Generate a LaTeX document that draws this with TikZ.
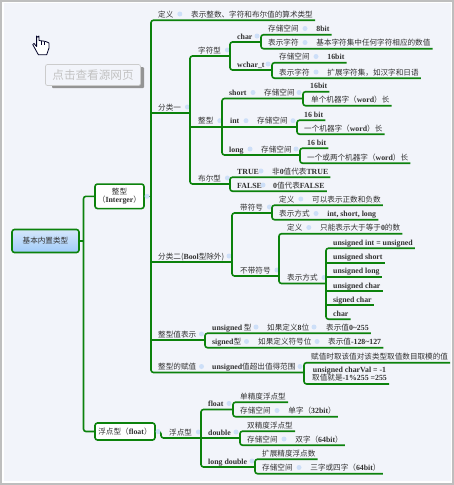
\documentclass[tikz,border=0pt]{standalone}
\usepackage{fontspec}
\setmainfont{Noto Sans CJK SC}
\newfontfamily\lat[Scale=1.03]{Liberation Serif}
\usetikzlibrary{positioning}
\definecolor{cBranch}{RGB}{12,130,12}
\definecolor{cDot}{RGB}{205,223,248}
\definecolor{cBg}{RGB}{242,244,250}
\definecolor{cFrame}{RGB}{190,190,190}
\definecolor{cTxt}{RGB}{50,50,50}
\definecolor{cRootA}{RGB}{214,231,251}
\definecolor{cRootB}{RGB}{160,203,250}
\newcommand{\en}[1]{{\lat\bfseries #1}}

\begin{document}
\begin{tikzpicture}[
  x=1pt, y=-1pt,
  txt/.style={font=\fontsize{7.6}{9}\selectfont, text=cTxt, inner xsep=2pt, inner ysep=0pt,
    text height=9pt, text depth=3pt, anchor=west},
  dot/.style={circle, fill=cDot, inner sep=0pt, minimum size=5pt},
  branch/.style={draw=cBranch, line width=1.6pt, rounded corners=2.5pt},
  topbox/.style={rectangle, rounded corners=2.5pt, draw=cBranch, line width=1.6pt, fill=white,
    font=\fontsize{7.6}{8.6}\selectfont, text=cTxt, align=center, inner sep=0pt},
  rootbox/.style={topbox, top color=cRootA, bottom color=cRootB, minimum width=67pt, minimum height=23pt},
  srcbtn/.style={rectangle, rounded corners=2pt, draw=black!20, line width=0.7pt, fill=cBg,
    font=\fontsize{11.6}{12}\selectfont, text=black!24, minimum width=95pt, minimum height=21pt, inner sep=0pt},
  btnshade/.style={rectangle, rounded corners=1pt, fill=black!42, minimum width=92pt, minimum height=21pt},
]
\useasboundingbox (0,0) rectangle (454,485);
% page frame
\fill[cFrame] (0,0) rectangle (454,485);
\fill[white] (2,2) rectangle (452,483);
\fill[cBg] (3.5,2.5) rectangle (450.5,481);

% hand and source button
\draw[fill=white, draw=black!85!blue, line width=0.8pt, line join=round]
  (36.6,36) arc[start angle=180, end angle=0, radius=1.2] -- (39,40.5) -- (43,41) -- (46,41.6)
  -- (49,43) -- (49,48) -- (46.7,54.8) -- (38.4,54.8) -- (32.8,44.6) -- (34,43.4) -- (36.6,46.5) -- cycle;
\draw[draw=black!85!blue, line width=0.5pt] (41.5,41) -- (41.5,45) (44.5,41.5) -- (44.5,45);
\node[btnshade] (btnSh) at (98,77.5) {};
\node[srcbtn] (btn) at (93,75) {点击查看源网页};

% top level boxes
\node[rootbox] (root) at (45.5,241) {基本内置类型};
\node[topbox, minimum width=49pt, minimum height=24.5pt] (boxInt) at (119.5,196.3) {整型\\（\en{Interger}）};
\node[topbox, minimum width=60pt, minimum height=17pt] (boxFlt) at (125,431.5) {浮点型（\en{float}）};

% junctions
\coordinate (jRoot) at (83.5,241);
\coordinate (jInt) at (151,196.3);
\coordinate (jOne) at (190,113);
\coordinate (jChars) at (230,56);
\coordinate (jChar) at (261,42);
\coordinate (jWchar) at (272,70);
\coordinate (jZx) at (222,126.7);
\coordinate (jShort) at (303,98.5);
\coordinate (jMid) at (297,126.7);
\coordinate (jLong) at (300,155);
\coordinate (jBool) at (230,184);
\coordinate (jTwo) at (232,262);
\coordinate (jSigned) at (272,213);
\coordinate (jUnsigned) at (279,276);
\coordinate (jForm) at (326,283.5);
\coordinate (jVal) at (205,340);
\coordinate (jAsgn) at (304,372.5);
\coordinate (jFltIn) at (161,438);
\coordinate (jFlt) at (201,438);
\coordinate (jFlo) at (233,409.5);
\coordinate (jDbl) at (240,438);
\coordinate (jLd) at (255,467);

% first branch
\node[txt] (nDef) at (156,14) {定义};
\node[dot, right=1.5pt of nDef] (dDef) {};
\node[txt, right=6.5pt of dDef] (nDefT) {表示整数、字符和布尔值的算术类型};
\node[txt] (nOne) at (156,107) {分类一};
\node[dot, right=1.5pt of nOne] (dOne) {};
\node[txt] (nChars) at (196,50) {字符型};
\node[dot, right=1.5pt of nChars] (dChars) {};
\node[txt] (nChar) at (235,36) {\en{char}};
\node[dot] (dChar) at (257,36) {};
\node[txt] (nCa) at (266,28.5) {存储空间};
\node[dot, right=1.5pt of nCa] (dCa) {};
\node[txt, right=6.5pt of dCa] (nCaT) {\en{8bit}};
\node[txt] (nCb) at (266,42.5) {表示字符};
\node[dot, right=1.5pt of nCb] (dCb) {};
\node[txt, right=6.5pt of dCb] (nCbT) {基本字符集中任何字符相应的数值};
\node[txt] (nWchar) at (235,64) {\en{wchar\_t}};
\node[dot] (dWchar) at (268,64) {};
\node[txt] (nWa) at (277,56.5) {存储空间};
\node[dot, right=1.5pt of nWa] (dWa) {};
\node[txt, right=6.5pt of dWa] (nWaT) {\en{16bit}};
\node[txt] (nWb) at (277,72) {表示字符};
\node[dot, right=1.5pt of nWb] (dWb) {};
\node[txt, right=6.5pt of dWb] (nWbT) {扩展字符集，如汉字和日语};
\node[txt] (nZx) at (196,120.7) {整型};
\node[dot, right=1.5pt of nZx] (dZx) {};
\node[txt] (nShort) at (227,92.5) {\en{short}};
\node[dot] (dShort) at (253,92.5) {};
\node[txt] (nSa) at (262,92.5) {存储空间};
\node[dot] (dSa) at (299,92.5) {};
\node[txt] (nSb) at (308,85.5) {\en{16bit}};
\node[txt] (nSc) at (309,99.5) {单个机器字（\en{word}）长};
\node[txt] (nMid) at (228,120.7) {\en{int}};
\node[dot] (dMid) at (246,120.7) {};
\node[txt] (nMa) at (255,120.7) {存储空间};
\node[dot] (dMa) at (293,120.7) {};
\node[txt] (nMb) at (302,114) {\en{16 bit}};
\node[txt] (nMc) at (302,128) {一个机器字（\en{word}）长};
\node[txt] (nLong) at (227,149) {\en{long}};
\node[dot] (dLong) at (250,149) {};
\node[txt] (nLa) at (259,149) {存储空间};
\node[dot] (dLa) at (296,149) {};
\node[txt] (nLb) at (305,142) {\en{16 bit}};
\node[txt] (nLc) at (305,157) {一个或两个机器字（\en{word}）长};
\node[txt] (nBool) at (196,178) {布尔型};
\node[dot, right=1.5pt of nBool] (dBool) {};
\node[txt] (nTrue) at (235,171) {\en{TRUE}};
\node[dot] (dTrue) at (261,171) {};
\node[txt] (nTrueT) at (270,171) {非\en{0}值代表\en{TRUE}};
\node[txt] (nFalse) at (235,185) {\en{FALSE}};
\node[dot] (dFalse) at (263,185) {};
\node[txt] (nFalseT) at (271,185) {\en{0}值代表\en{FALSE}};

% second branch
\node[txt] (nTwo) at (156,256) {分类二(\en{Bool}型除外)};
\node[dot] (dTwo) at (229,256) {};
\node[txt] (nSigned) at (238,207) {带符号};
\node[dot, right=1.5pt of nSigned] (dSigned) {};
\node[txt] (nGa) at (277,199) {定义};
\node[dot, right=1.5pt of nGa] (dGa) {};
\node[txt, right=6.5pt of dGa] (nGaT) {可以表示正数和负数};
\node[txt] (nGb) at (277,213.5) {表示方式};
\node[dot, right=1.5pt of nGb] (dGb) {};
\node[txt, right=6.5pt of dGb] (nGbT) {\en{int, short, long}};
\node[txt] (nUnsigned) at (238,270) {不带符号};
\node[dot, right=1.5pt of nUnsigned] (dUnsigned) {};
\node[txt] (nUa) at (285,227.5) {定义};
\node[dot, right=1.5pt of nUa] (dUa) {};
\node[txt, right=6.5pt of dUa] (nUaT) {只能表示大于等于\en{0}的数};
\node[txt] (nForm) at (285,277.5) {表示方式};
\node[dot, right=1.5pt of nForm] (dForm) {};
\node[txt] (nFa) at (331,242) {\en{unsigned int = unsigned}};
\node[txt] (nFb) at (331,256.5) {\en{unsigned short}};
\node[txt] (nFc) at (331,270.5) {\en{unsigned long}};
\node[txt] (nFd) at (331,285) {\en{unsigned char}};
\node[txt] (nFe) at (331,299) {\en{signed char}};
\node[txt] (nFf) at (331,313) {\en{char}};

% value rows
\node[txt] (nVal) at (156,334) {整型值表示};
\node[dot] (dVal) at (201.5,334) {};
\node[txt] (nVa) at (210,327) {\en{unsigned} 型};
\node[dot] (dVa) at (256,327) {};
\node[txt] (nVb) at (265,327) {如果定义\en{8}位};
\node[dot] (dVb) at (314,327) {};
\node[txt] (nVc) at (324,327) {表示值\en{0\textasciitilde255}};
\node[txt] (nWs) at (210,341.5) {\en{signed}型};
\node[dot] (dWs) at (246.5,341.5) {};
\node[txt] (nWt) at (256,341.5) {如果定义符号位};
\node[dot] (dWt) at (317,341.5) {};
\node[txt] (nWu) at (326,341.5) {表示值\en{-128\textasciitilde127}};
\node[txt] (nAsgn) at (156,366.5) {整型的赋值};
\node[dot] (dAsgn) at (201.5,366.5) {};
\node[txt] (nAa) at (210,366.5) {\en{unsigned}值超出值得范围};
\node[dot] (dAa) at (300,366.5) {};
\node[txt] (nAb) at (309,356.5) {赋值时取该值对该类型取值数目取模的值};
\node[txt, text height=16.5pt] (nAc) at (310,374) {\shortstack[c]{\en{unsigned charVal = -1}\\[-2.5pt]取值就是\en{-1\%255 =255}}};

% float branch
\node[txt] (nFlt) at (167,432) {浮点型};
\node[dot, right=1.5pt of nFlt] (dFlt) {};
\node[txt] (nFlo) at (206,403.5) {\en{float}};
\node[dot] (dFlo) at (229,403.5) {};
\node[txt] (nFoa) at (238,396) {单精度浮点型};
\node[txt] (nFob) at (238,410.5) {存储空间};
\node[dot, right=1.5pt of nFob] (dFob) {};
\node[txt, right=6.5pt of dFob] (nFobT) {单字（\en{32bit}）};
\node[txt] (nDbl) at (206,432) {\en{double}};
\node[dot] (dDbl) at (236,432) {};
\node[txt] (nDa) at (245,425) {双精度浮点型};
\node[txt] (nDb) at (245,439) {存储空间};
\node[dot, right=1.5pt of nDb] (dDb) {};
\node[txt, right=6.5pt of dDb] (nDbT) {双字（\en{64bit}）};
\node[txt] (nLd) at (206,461) {\en{long double}};
\node[dot] (dLd) at (252,461) {};
\node[txt] (nLda) at (260,453) {扩展精度浮点数};
\node[txt] (nLdb) at (260,467.5) {存储空间};
\node[dot, right=1.5pt of nLdb] (dLdb) {};
\node[txt, right=6.5pt of dLdb] (nLdbT) {三字或四字（\en{64bit}）};

% connectors
\draw[branch] (root) -- (jRoot);
\draw[branch] (boxInt.west) -| (jRoot) |- (boxFlt.west);
\draw[branch] (boxInt.east) -- (jInt);
\draw[branch] (nDefT.south east) -| (jInt) |- (jAsgn);
\draw[branch] (jInt |- jOne) -- (jOne);
\draw[branch] (jInt |- jTwo) -- (jTwo);
\draw[branch] (jInt |- jVal) -- (jVal);
\draw[branch] (jChars) -| (jOne) |- (jBool);
\draw[branch] (jOne |- jZx) -- (jZx);
\draw[branch] (jChar) -| (jChars) |- (jWchar);
\draw[branch] (nCaT.south east) -| (jChar) |- (nCbT.south east);
\draw[branch] (nWaT.south east) -| (jWchar) |- (nWbT.south east);
\draw[branch] (jShort) -| (jZx) |- (jLong);
\draw[branch] (jZx) -- (jMid);
\draw[branch] (nSb.south east) -| (jShort) |- (nSc.south east);
\draw[branch] (nMb.south east) -| (jMid) |- (nMc.south east);
\draw[branch] (nLb.south east) -| (jLong) |- (nLc.south east);
\draw[branch] (nTrueT.south east) -| (jBool) |- (nFalseT.south east);
\draw[branch] (jSigned) -| (jTwo) |- (jUnsigned);
\draw[branch] (nGaT.south east) -| (jSigned) |- (nGbT.south east);
\draw[branch] (nUaT.south east) -| (jUnsigned) |- (jForm);
\draw[branch] (nFa.south east) -| (jForm) |- (nFf.south east);
\draw[branch] (jForm |- nFb.south) -- (nFb.south east);
\draw[branch] (jForm |- nFc.south) -- (nFc.south east);
\draw[branch] (jForm |- nFd.south) -- (nFd.south east);
\draw[branch] (jForm |- nFe.south) -- (nFe.south east);
\draw[branch] (nVc.south east) -| (jVal) |- (nWu.south east);
\draw[branch] (nAb.south east) -| (jAsgn) |- (nAc.south east);
\draw[branch] (boxFlt.east) -| (jFltIn) -- (jFlt);
\draw[branch] (jFlo) -| (jFlt) |- (jLd);
\draw[branch] (jFlt) -- (jDbl);
\draw[branch] (nFoa.south east) -| (jFlo) |- (nFobT.south east);
\draw[branch] (nDa.south east) -| (jDbl) |- (nDbT.south east);
\draw[branch] (nLda.south east) -| (jLd) |- (nLdbT.south east);

% dots sitting on the lines
\node[dot] (dBoxInt) at (147,196.3) {};
\node[dot] (dBoxFlt) at (158,431.5) {};
\end{tikzpicture}
\end{document}
